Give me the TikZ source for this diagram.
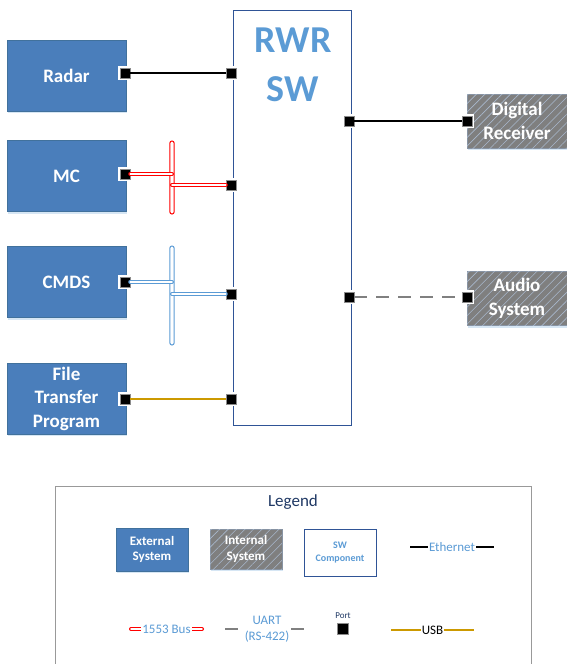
\documentclass[tikz,border=0pt]{standalone}
\usepackage{fontspec}
\setmainfont{Carlito}
\usetikzlibrary{patterns.meta,shadows}
\definecolor{ext}{HTML}{4A7EBB}
\definecolor{extline}{HTML}{41719C}
\definecolor{swtext}{HTML}{5B9BD5}
\definecolor{swline}{HTML}{2F5496}
\definecolor{intfill}{HTML}{7F7F7F}
\definecolor{hatch}{HTML}{A9B8CC}
\definecolor{usb}{HTML}{CC9900}
\definecolor{navy}{HTML}{1F3864}
\definecolor{busred}{HTML}{FF0000}
\tikzset{sys/.style={draw=extline,fill=ext,text=white,align=center,inner sep=0pt,minimum width=119pt,minimum height=71pt,font=\bfseries\fontsize{19}{23.5}\selectfont,drop shadow={shadow xshift=1pt,shadow yshift=-2pt,opacity=0.25,fill=swtext}},intsys/.style={sys,draw=hatch!80!black,fill=intfill,postaction={pattern={Lines[angle=45,distance=6pt,line width=0.6pt]},pattern color=hatch},minimum width=100pt,minimum height=54pt},swbox/.style={draw=swline,line width=0.9pt,fill=white},port/.style={rectangle,fill=black,draw=black!45,line width=0.4pt,minimum size=10pt,inner sep=0pt,preaction={draw=white,line width=4pt}},busbar/.style={rectangle,rounded corners=2pt,fill=white,line width=1pt,minimum width=4.2pt,inner sep=0pt},eth/.style={black,line width=1.2pt},uart/.style={gray,line width=1.2pt,dash pattern=on 13pt off 9pt},usbline/.style={usb,line width=1.2pt},milout/.style={busred,line width=4pt,line cap=round},cmdsout/.style={swtext,line width=4pt,line cap=round},busin/.style={white,line width=1.6pt,line cap=round},lgtext/.style={font=\fontsize{13}{15.5}\selectfont,text=swtext,fill=white,inner sep=1pt,align=center}}
\begin{document}
\begin{tikzpicture}[x=1pt,y=-1pt]
\useasboundingbox (0,0) rectangle (567,664);
\node[sys] (radar) at (66.5,75.5) {Radar};
\node[sys] (mc) at (66.5,176) {MC};
\node[sys] (cmds) at (66.5,282) {CMDS};
\node[sys] (ftp) at (66.5,398.5) {File\\Transfer\\Program};
\node[swbox,minimum width=118pt,minimum height=415pt] (rwr) at (292,217.5) {};
\node[text=swtext,font=\bfseries\fontsize{38}{49}\selectfont,align=center] (title) at (293,65) {RWR\\SW};
\node[intsys] (dr) at (517,121) {Digital\\Receiver};
\node[intsys] (audio) at (517,298.5) {Audio\\System};
\node[busbar,draw=busred,minimum height=73pt] (mcBus) at (172,177.5) {};
\node[busbar,draw=swtext,minimum height=99pt] (cmdsBus) at (172,295.5) {};
\foreach \n/\x/\y in {radarP/125/73,mcP/125/174,cmdsP/125/282,ftpP/125/399,rRadar/231/73,rMc/231/185,rCmds/231/294,rFtp/231/399,rDr/349/121,rAudio/349/297,drP/467/121,audioP/467/297}{\node[port] (\n) at (\x,\y) {};}
\draw[eth] (radarP) -- (rRadar);
\draw[eth] (rDr) -- (drP);
\draw[uart] (rAudio) -- (audioP);
\draw[usbline] (ftpP) -- (rFtp);
\foreach \s in {milout,busin}{
\draw[\s] (mcP.east) -- (mcP -| mcBus.center);
\draw[\s] (mcBus.center |- rMc) -- (rMc.west);}
\foreach \s in {cmdsout,busin}{
\draw[\s] (cmdsP.east) -- (cmdsP -| cmdsBus.center);
\draw[\s] (cmdsBus.center |- rCmds) -- (rCmds.west);}
\node[draw=black!40,line width=0.8pt,minimum width=476pt,minimum height=184pt] (legend) at (293,578) {};
\node[text=navy,font=\fontsize{17}{20}\selectfont] (legTitle) at (293,502) {Legend};
\node[sys,minimum width=72pt,minimum height=43pt,font=\bfseries\fontsize{13}{15.7}\selectfont] (lgExt) at (152,549.5) {External\\System};
\node[intsys,minimum width=72pt,minimum height=40pt,font=\bfseries\fontsize{13}{15.7}\selectfont] (lgInt) at (246,549) {Internal\\System};
\node[swbox,minimum width=72pt,minimum height=47pt,text=swtext,align=center,font=\bfseries\fontsize{10}{12.3}\selectfont] (lgSw) at (340,552.5) {SW\\Component};
\coordinate (ethA) at (410,547); \coordinate (ethB) at (494,547);
\draw[eth] (ethA) -- node[lgtext] {Ethernet} (ethB);
\coordinate (milA) at (131,629); \coordinate (milB) at (202,629);
\draw[milout] (milA) -- (milB);
\draw[busin] (milA) -- node[lgtext] {1553 Bus} (milB);
\coordinate (uartA) at (225,629); \coordinate (uartB) at (309,629);
\draw[uart] (uartA) -- node[lgtext] {UART\\(RS-422)} (uartB);
\node[port,minimum size=11pt] (lgPort) at (343,629) {};
\node[text=navy,font=\fontsize{9}{10}\selectfont,inner sep=0pt] (lgPortText) at (343,616) {Port};
\coordinate (usbA) at (391,630); \coordinate (usbB) at (474,630);
\draw[usbline] (usbA) -- node[lgtext,text=black] {USB} (usbB);
\end{tikzpicture}
\end{document}
